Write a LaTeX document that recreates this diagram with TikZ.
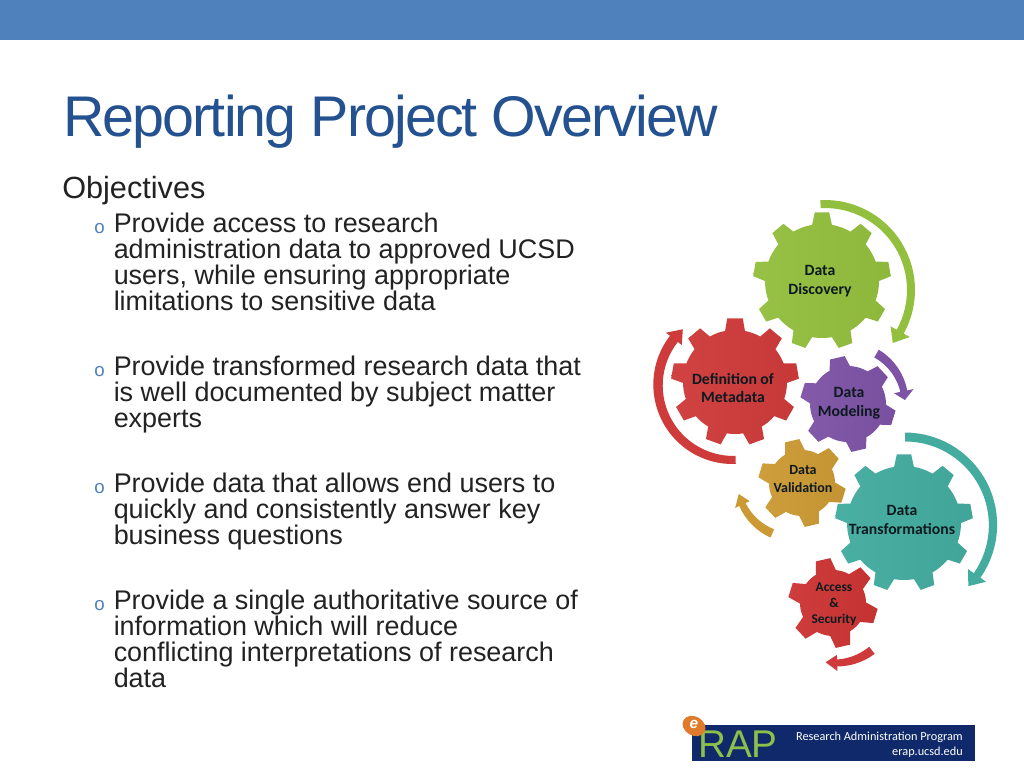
\documentclass[tikz,border=0pt]{standalone}
\usepackage{fontspec}
\setmainfont{Liberation Sans}
\newfontfamily\carl{Carlito}
\newfontfamily\titlef[LetterSpace=-3.3]{Liberation Sans}
\definecolor{band}{HTML}{4F81BD}
\definecolor{titlec}{HTML}{24518F}
\definecolor{bodyc}{HTML}{222222}
\definecolor{bulletc}{HTML}{4F81BD}
\definecolor{ggreen}{HTML}{93BF3E}
\definecolor{gred}{HTML}{CF3A3A}
\definecolor{gpurple}{HTML}{7E53A6}
\definecolor{ggold}{HTML}{CC9A34}
\definecolor{gteal}{HTML}{43AC9F}
\definecolor{gacc}{HTML}{CC3434}
\definecolor{gtext}{HTML}{0C1A20}
\definecolor{navy}{HTML}{10296A}
\definecolor{rapg}{HTML}{8CC04B}
\definecolor{orangee}{HTML}{E07B2E}
\tikzset{
  para/.style={anchor=north west,inner sep=0pt,align=left,text=bodyc,
    font=\fontsize{20.2pt}{19.5pt}\selectfont},
  bul/.style={anchor=base west,inner sep=0pt,text=bulletc,font=\fontsize{14pt}{14pt}\selectfont},
  gearlab/.style={align=center,inner sep=0pt,text=gtext,font=\carl\bfseries\fontsize{11.8pt}{14.2pt}\selectfont},
}
% centre x,y; body r; outer r; teeth; first tooth angle; base half-angle; tip half-angle; colour
\newcommand{\gearshape}[9]{%
 \begin{scope}[shift={(#1,#2)}]
  \pgfmathsetmacro{\gsp}{360/#5}
  \pgfmathsetmacro{\ggap}{(\gsp-2*#7)/6}
  \shade[left color=#9!96!white,right color=#9!96!black]
   ({#6-#7}:#3)
   \foreach \ti in {0,...,\numexpr#5-1\relax}{
     -- ({#6+\ti*\gsp-#7}:#3) -- ({#6+\ti*\gsp-#8}:#4) -- ({#6+\ti*\gsp+#8}:#4) -- ({#6+\ti*\gsp+#7}:#3)
     \foreach \tk in {1,...,5}{ -- ({#6+\ti*\gsp+#7+\tk*\ggap}:#3) }
   } -- cycle;
 \end{scope}}
% centre x,y; mid radius; start; end of shaft; w0; w1; tip angle; head half width (colour in \acol)
\newcommand{\arrowshape}[9]{%
 \begin{scope}[shift={(#1,#2)}]
  \fill[\acol]
   ({#4}:{#3+#6/2})
   \foreach \tk in {1,...,30}{ -- ({#4+(#5-#4)*\tk/30}:{#3+(#6+(#7-#6)*\tk/30)/2}) }
   -- ({#5}:{#3+#9}) -- ({#8}:{#3}) -- ({#5}:{#3-#9})
   \foreach \tk in {30,29,...,0}{ -- ({#4+(#5-#4)*\tk/30}:{#3-(#6+(#7-#6)*\tk/30)/2}) }
   -- cycle;
 \end{scope}}
\begin{document}
\begin{tikzpicture}[x=0.75pt,y=-0.75pt]
\useasboundingbox (0,0) rectangle (1024,768);
\fill[white] (0,0) rectangle (1024,768);
\fill[band] (0,0) rectangle (1024,40);
\node[anchor=base west,inner sep=0pt,text=titlec,font=\titlef\fontsize{43pt}{44pt}\selectfont] (title) at (63,136) {Reporting Project Overview};
\node[anchor=base west,inner sep=0pt,text=bodyc,font=\fontsize{23pt}{26pt}\selectfont] (obj) at (62,198) {Objectives};
\node[para] (p1) at (113.5,213) {Provide access to research\\administration data to approved UCSD\\users, while ensuring appropriate\\limitations to sensitive data};
\node[para] (p2) at (113.5,356) {Provide transformed research data that\\is well documented by subject matter\\experts};
\node[para] (p3) at (113.5,473) {Provide data that allows end users to\\quickly and consistently answer key\\business questions};
\node[para] (p4) at (113.5,590) {Provide a single authoritative source of\\information which will reduce\\conflicting interpretations of research\\data};
\node[bul] (b1) at (94,233) {o};
\node[bul] (b2) at (94,376) {o};
\node[bul] (b3) at (94,493) {o};
\node[bul] (b4) at (94,610) {o};
% arrows
\def\acol{ggreen}\arrowshape{825}{290}{86}{-93}{29}{8}{8}{38}{11}
\def\acol{gpurple}\arrowshape{848}{403}{57}{-60}{-12}{9}{7}{-3}{10}
\def\acol{gred}\arrowshape{733}{385}{75}{88}{218}{8}{10}{228}{10}
\def\acol{ggold}\arrowshape{795}{480}{58}{113}{155}{9}{7}{166}{8}
\def\acol{gteal}\arrowshape{905}{525}{88}{-90}{35}{9}{8}{44}{11}
\def\acol{gred}\arrowshape{835}{603}{60}{52}{88}{9}{7}{99}{8}
% gears
\gearshape{822}{281}{57}{69}{9}{-90}{10}{6}{ggreen}
\gearshape{735}{382}{52}{64}{9}{-90}{11}{7}{gred}
\gearshape{848}{404}{38}{48}{6}{-103}{16}{9}{gpurple}
\gearshape{802}{483}{33}{44}{6}{-103}{18}{9.5}{ggold}
\gearshape{904}{523}{57}{69}{9}{-90}{10}{6}{gteal}
\gearshape{833}{603}{33}{45}{6}{-103}{18}{9.5}{gacc}
\node[gearlab] (g1) at (820,281) {Data\\Discovery};
\node[gearlab] (g2) at (733,388) {Definition of\\Metadata};
\node[gearlab] (g3) at (849,403) {Data\\Modeling};
\node[gearlab,font=\carl\bfseries\fontsize{10.5pt}{13pt}\selectfont] (g4) at (803,479) {Data\\Validation};
\node[gearlab] (g5) at (902,520) {Data\\Transformations};
\node[gearlab,font=\carl\bfseries\fontsize{10pt}{12pt}\selectfont] (g6) at (834,604) {Access\\\&\\Security};
% logo
\fill[navy] (692,725) rectangle (975,761);
\node[anchor=base west,inner sep=0pt,text=rapg,font=\fontsize{29pt}{32pt}\selectfont] (rap) at (698,757) {RAP};
\fill[orangee,rotate around={-30:(694,726)}] (694,726) ellipse [x radius=12,y radius=9.5];
\node[inner sep=0pt,text=white,font=\bfseries\itshape\fontsize{11.5pt}{12pt}\selectfont] (elog) at (694,724) {e};
\node[anchor=base east,inner sep=0pt,text=white,font=\carl\fontsize{9.2pt}{12pt}\selectfont] (l1) at (963,740) {Research Administration Program};
\node[anchor=base east,inner sep=0pt,text=white,font=\carl\fontsize{9.2pt}{12pt}\selectfont] (l2) at (963,755) {erap.ucsd.edu};
\end{tikzpicture}
\end{document}
